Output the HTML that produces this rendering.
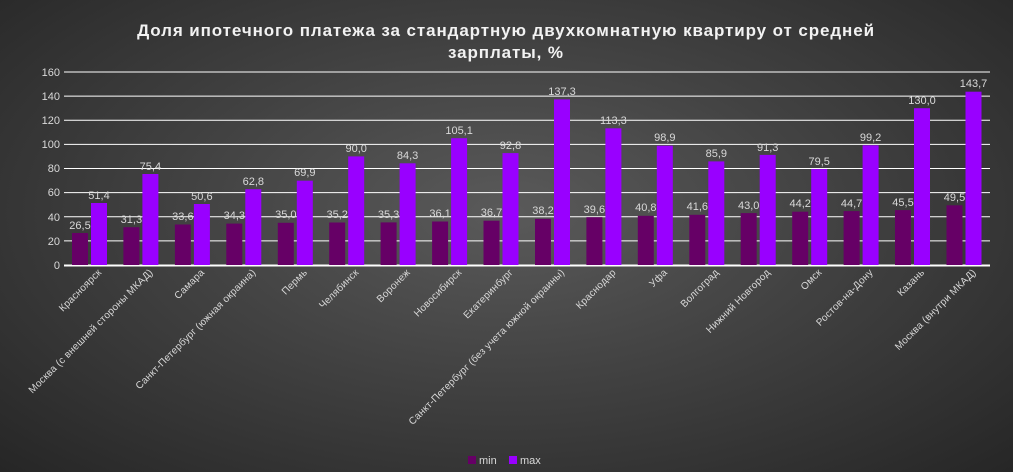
<!DOCTYPE html>
<html><head><meta charset="utf-8"><style>
html,body{margin:0;padding:0;}
body{width:1013px;height:472px;overflow:hidden;background:radial-gradient(ellipse at 50% 45%,#5a5a5a 0%,#424242 45%,#262626 100%);font-family:"Liberation Sans","DejaVu Sans",sans-serif;}
svg{display:block;}
svg text{font-family:"Liberation Sans","DejaVu Sans",sans-serif;}
.v{fill:#d9d9d9;font-size:11px;text-anchor:middle;}
.c{fill:#d9d9d9;font-size:10px;text-anchor:end;letter-spacing:0.2px;}
.y{fill:#d9d9d9;font-size:11px;text-anchor:end;}
.mn{fill:#660066;} .mx{fill:#9900ff;}
</style></head><body>
<svg width="1013" height="472" xmlns="http://www.w3.org/2000/svg">
<text x="506" y="36" fill="#f2f2f2" font-size="17" font-weight="bold" letter-spacing="0.9" text-anchor="middle">Доля ипотечного платежа за стандартную двухкомнатную квартиру от средней</text>
<text x="506" y="58" fill="#f2f2f2" font-size="17" font-weight="bold" letter-spacing="0.9" text-anchor="middle">зарплаты, %</text>
<g stroke="#ffffff" stroke-width="1">
<line x1="64" y1="72" x2="990" y2="72"/><line x1="64" y1="96.1" x2="990" y2="96.1"/><line x1="64" y1="120.3" x2="990" y2="120.3"/><line x1="64" y1="144.4" x2="990" y2="144.4"/><line x1="64" y1="168.5" x2="990" y2="168.5"/><line x1="64" y1="192.6" x2="990" y2="192.6"/><line x1="64" y1="216.8" x2="990" y2="216.8"/><line x1="64" y1="240.9" x2="990" y2="240.9"/>
</g>
<line x1="64" y1="265.5" x2="990" y2="265.5" stroke="#fff" stroke-width="2"/>
<text class="y" x="60" y="76">160</text><text class="y" x="60" y="100">140</text><text class="y" x="60" y="124">120</text><text class="y" x="60" y="148">100</text><text class="y" x="60" y="172">80</text><text class="y" x="60" y="196">60</text><text class="y" x="60" y="221">40</text><text class="y" x="60" y="245">20</text><text class="y" x="60" y="269">0</text>

<g transform="translate(64,0)"><rect class="mn" x="8" y="233" width="16" height="32"/><rect class="mx" x="27" y="203" width="16" height="62"/><text class="v" x="16" y="229">26,5</text><text class="v" x="35" y="199">51,4</text><text class="c" transform="translate(38,273) rotate(-45)">Красноярск</text></g>
<g transform="translate(115.4,0)"><rect class="mn" x="8" y="227.2" width="16" height="37.8"/><rect class="mx" x="27" y="174" width="16" height="91"/><text class="v" x="16" y="223">31,3</text><text class="v" x="35" y="170">75,4</text><text class="c" transform="translate(38,273) rotate(-45)">Москва (с внешней стороны МКАД)</text></g>
<g transform="translate(166.9,0)"><rect class="mn" x="8" y="224.5" width="16" height="40.5"/><rect class="mx" x="27" y="204" width="16" height="61"/><text class="v" x="16" y="220">33,6</text><text class="v" x="35" y="200">50,6</text><text class="c" transform="translate(38,273) rotate(-45)">Самара</text></g>
<g transform="translate(218.3,0)"><rect class="mn" x="8" y="223.6" width="16" height="41.4"/><rect class="mx" x="27" y="189.2" width="16" height="75.8"/><text class="v" x="16" y="219">34,3</text><text class="v" x="35" y="185">62,8</text><text class="c" transform="translate(38,273) rotate(-45)">Санкт-Петербург (южная окраина)</text></g>
<g transform="translate(269.8,0)"><rect class="mn" x="8" y="222.8" width="16" height="42.2"/><rect class="mx" x="27" y="180.7" width="16" height="84.3"/><text class="v" x="16" y="218">35,0</text><text class="v" x="35" y="176">69,9</text><text class="c" transform="translate(38,273) rotate(-45)">Пермь</text></g>
<g transform="translate(321.2,0)"><rect class="mn" x="8" y="222.5" width="16" height="42.5"/><rect class="mx" x="27" y="156.4" width="16" height="108.6"/><text class="v" x="16" y="218">35,2</text><text class="v" x="35" y="152">90,0</text><text class="c" transform="translate(38,273) rotate(-45)">Челябинск</text></g>
<g transform="translate(372.6,0)"><rect class="mn" x="8" y="222.4" width="16" height="42.6"/><rect class="mx" x="27" y="163.3" width="16" height="101.7"/><text class="v" x="16" y="218">35,3</text><text class="v" x="35" y="159">84,3</text><text class="c" transform="translate(38,273) rotate(-45)">Воронеж</text></g>
<g transform="translate(424.1,0)"><rect class="mn" x="8" y="221.5" width="16" height="43.5"/><rect class="mx" x="27" y="138.2" width="16" height="126.8"/><text class="v" x="16" y="217">36,1</text><text class="v" x="35" y="134">105,1</text><text class="c" transform="translate(38,273) rotate(-45)">Новосибирск</text></g>
<g transform="translate(475.5,0)"><rect class="mn" x="8" y="220.7" width="16" height="44.3"/><rect class="mx" x="27" y="153.1" width="16" height="111.9"/><text class="v" x="16" y="216">36,7</text><text class="v" x="35" y="149">92,8</text><text class="c" transform="translate(38,273) rotate(-45)">Екатеринбург</text></g>
<g transform="translate(527,0)"><rect class="mn" x="8" y="218.9" width="16" height="46.1"/><rect class="mx" x="27" y="99.4" width="16" height="165.6"/><text class="v" x="16" y="214">38,2</text><text class="v" x="35" y="95">137,3</text><text class="c" transform="translate(38,273) rotate(-45)">Санкт-Петербург (без учета южной окраины)</text></g>
<g transform="translate(578.4,0)"><rect class="mn" x="8" y="217.2" width="16" height="47.8"/><rect class="mx" x="27" y="128.3" width="16" height="136.7"/><text class="v" x="16" y="213">39,6</text><text class="v" x="35" y="124">113,3</text><text class="c" transform="translate(38,273) rotate(-45)">Краснодар</text></g>
<g transform="translate(629.8,0)"><rect class="mn" x="8" y="215.8" width="16" height="49.2"/><rect class="mx" x="27" y="145.7" width="16" height="119.3"/><text class="v" x="16" y="211">40,8</text><text class="v" x="35" y="141">98,9</text><text class="c" transform="translate(38,273) rotate(-45)">Уфа</text></g>
<g transform="translate(681.3,0)"><rect class="mn" x="8" y="214.8" width="16" height="50.2"/><rect class="mx" x="27" y="161.4" width="16" height="103.6"/><text class="v" x="16" y="210">41,6</text><text class="v" x="35" y="157">85,9</text><text class="c" transform="translate(38,273) rotate(-45)">Волгоград</text></g>
<g transform="translate(732.7,0)"><rect class="mn" x="8" y="213.1" width="16" height="51.9"/><rect class="mx" x="27" y="154.9" width="16" height="110.1"/><text class="v" x="16" y="209">43,0</text><text class="v" x="35" y="151">91,3</text><text class="c" transform="translate(38,273) rotate(-45)">Нижний Новгород</text></g>
<g transform="translate(784.2,0)"><rect class="mn" x="8" y="211.7" width="16" height="53.3"/><rect class="mx" x="27" y="169.1" width="16" height="95.9"/><text class="v" x="16" y="207">44,2</text><text class="v" x="35" y="165">79,5</text><text class="c" transform="translate(38,273) rotate(-45)">Омск</text></g>
<g transform="translate(835.6,0)"><rect class="mn" x="8" y="211.1" width="16" height="53.9"/><rect class="mx" x="27" y="145.3" width="16" height="119.7"/><text class="v" x="16" y="207">44,7</text><text class="v" x="35" y="141">99,2</text><text class="c" transform="translate(38,273) rotate(-45)">Ростов-на-Дону</text></g>
<g transform="translate(887,0)"><rect class="mn" x="8" y="210.1" width="16" height="54.9"/><rect class="mx" x="27" y="108.2" width="16" height="156.8"/><text class="v" x="16" y="206">45,5</text><text class="v" x="35" y="104">130,0</text><text class="c" transform="translate(38,273) rotate(-45)">Казань</text></g>
<g transform="translate(938.5,0)"><rect class="mn" x="8" y="205.3" width="16" height="59.7"/><rect class="mx" x="27" y="91.7" width="16" height="173.3"/><text class="v" x="16" y="201">49,5</text><text class="v" x="35" y="87">143,7</text><text class="c" transform="translate(38,273) rotate(-45)">Москва (внутри МКАД)</text></g>

<rect x="468" y="456" width="8" height="8" fill="#660066"/><text x="479" y="464" fill="#d9d9d9" font-size="11">min</text>
<rect x="509" y="456" width="8" height="8" fill="#9900ff"/><text x="520" y="464" fill="#d9d9d9" font-size="11">max</text>
</svg>
</body></html>
